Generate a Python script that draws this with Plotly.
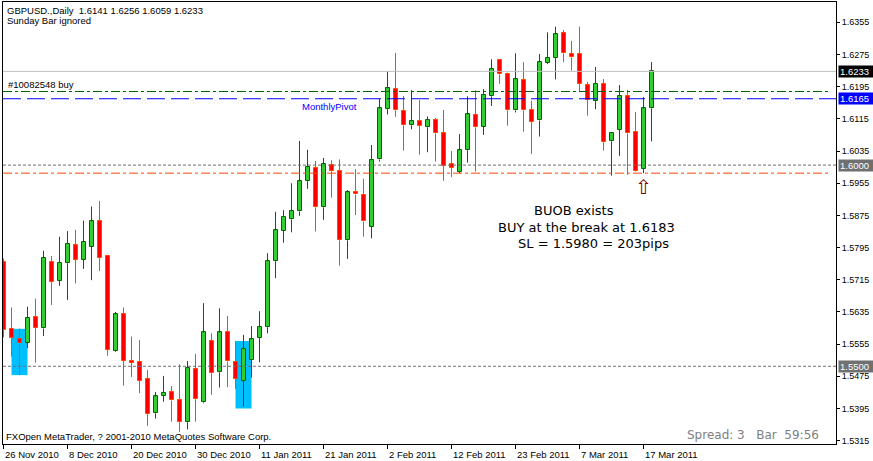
import plotly.graph_objects as go

# ---------------- data ----------------
opens = [1.5760, 1.5593, 1.5567, 1.5559, 1.5622, 1.5594, 1.5759, 1.5713, 1.5756, 1.5801,
         1.5765, 1.5797, 1.5860, 1.5773, 1.5539, 1.5629, 1.5513, 1.5510, 1.5468, 1.5383,
         1.5427, 1.5435, 1.5415, 1.5361, 1.5492, 1.5410, 1.5563, 1.5485, 1.5584, 1.5510,
         1.5463, 1.5516, 1.5570, 1.5597, 1.5761, 1.5836, 1.5865, 1.5885, 1.5960, 1.5992,
         1.5895, 1.6000, 1.5985, 1.5813, 1.5932, 1.5925, 1.5847, 1.6014, 1.6139, 1.6189,
         1.6135, 1.6099, 1.6109, 1.6094, 1.6112, 1.6079, 1.6002, 1.5984, 1.6037, 1.6124,
         1.6096, 1.6171, 1.6261, 1.6227, 1.6136, 1.6211, 1.6136, 1.6111, 1.6255, 1.6266,
         1.6328, 1.6276, 1.6276, 1.6198, 1.6159, 1.6201, 1.6059, 1.6088, 1.6171, 1.6082,
         1.5990, 1.6141]
highs = [1.5768, 1.5646, 1.5594, 1.5648, 1.5668, 1.5787, 1.5774, 1.5822, 1.5836, 1.5839,
         1.5862, 1.5897, 1.5911, 1.5775, 1.5635, 1.5646, 1.5574, 1.5565, 1.5491, 1.5436,
         1.5476, 1.5451, 1.5505, 1.5513, 1.5531, 1.5657, 1.5582, 1.5644, 1.5625, 1.5563,
         1.5578, 1.5600, 1.5637, 1.5781, 1.5884, 1.5888, 1.5955, 1.6060, 1.6038, 1.6010,
         1.6018, 1.6012, 1.6014, 1.5938, 1.5990, 1.5966, 1.6050, 1.6164, 1.6234, 1.6279,
         1.6172, 1.6186, 1.6162, 1.6121, 1.6117, 1.6137, 1.6035, 1.6077, 1.6171, 1.6186,
         1.6189, 1.6263, 1.6262, 1.6230, 1.6278, 1.6256, 1.6160, 1.6276, 1.6330, 1.6344,
         1.6336, 1.6309, 1.6344, 1.6207, 1.6244, 1.6214, 1.6079, 1.6199, 1.6187, 1.6132,
         1.6169, 1.6256]
lows = [1.5572, 1.5524, 1.5478, 1.5545, 1.5509, 1.5575, 1.5652, 1.5700, 1.5665, 1.5706,
        1.5742, 1.5714, 1.5737, 1.5526, 1.5536, 1.5452, 1.5473, 1.5433, 1.5352, 1.5370,
        1.5412, 1.5362, 1.5337, 1.5343, 1.5362, 1.5408, 1.5429, 1.5447, 1.5448, 1.5444,
        1.5400, 1.5472, 1.5510, 1.5582, 1.5719, 1.5807, 1.5833, 1.5874, 1.5941, 1.5835,
        1.5864, 1.5919, 1.5750, 1.5767, 1.5876, 1.5822, 1.5818, 1.6009, 1.6126, 1.6120,
        1.6036, 1.6089, 1.6026, 1.6032, 1.6009, 1.5961, 1.5970, 1.5980, 1.6006, 1.5984,
        1.6075, 1.6147, 1.6202, 1.6098, 1.6131, 1.6083, 1.6028, 1.6071, 1.6251, 1.6213,
        1.6256, 1.6235, 1.6184, 1.6123, 1.6139, 1.6036, 1.5974, 1.6023, 1.5976, 1.5984,
        1.5980, 1.6059]
closes = [1.5590, 1.5570, 1.5559, 1.5620, 1.5596, 1.5769, 1.5710, 1.5757, 1.5804, 1.5764,
          1.5809, 1.5860, 1.5770, 1.5541, 1.5629, 1.5514, 1.5509, 1.5464, 1.5381, 1.5425,
          1.5434, 1.5415, 1.5362, 1.5495, 1.5418, 1.5584, 1.5483, 1.5584, 1.5512, 1.5468,
          1.5542, 1.5567, 1.5597, 1.5761, 1.5838, 1.5872, 1.5885, 1.5960, 1.5995, 1.5895,
          1.6002, 1.5985, 1.5813, 1.5932, 1.5927, 1.5860, 1.6012, 1.6141, 1.6191, 1.6136,
          1.6099, 1.6109, 1.6097, 1.6112, 1.6079, 1.5998, 1.5994, 1.6037, 1.6126, 1.6094,
          1.6174, 1.6238, 1.6226, 1.6136, 1.6213, 1.6136, 1.6107, 1.6256, 1.6266, 1.6325,
          1.6278, 1.6268, 1.6202, 1.6162, 1.6202, 1.6057, 1.6079, 1.6171, 1.6079, 1.5986,
          1.6141, 1.6233]

date_tick_bars = [0, 8, 16, 24, 32, 40, 48, 56, 64, 72, 80]
date_tick_labels = ["26 Nov 2010", "8 Dec 2010", "20 Dec 2010", "30 Dec 2010", "11 Jan 2011",
                    "21 Jan 2011", "2 Feb 2011", "12 Feb 2011", "23 Feb 2011", "7 Mar 2011",
                    "17 Mar 2011"]
price_ticks = [1.5315, 1.5395, 1.5475, 1.5555, 1.5635, 1.5715, 1.5795, 1.5875, 1.5955,
               1.6035, 1.6115, 1.6195, 1.6275, 1.6355]

bid_price = 1.6233
order_price = 1.6183
pivot_price = 1.6165
sl_price = 1.5980
level_1600 = 1.6000
level_1550 = 1.5500

boxes = [  # (bar from, bar to, price low, price high)
    (1, 3, 1.5478, 1.5593),
    (29, 31, 1.5395, 1.5563),
]
signal_bar = 80

title_text = "GBPUSD.,Daily\u00a0\u00a01.6141 1.6256 1.6059 1.6233"

# ---------------- geometry ----------------
W, H = 873, 461
LM, RM, TM, BM = 3, 37, 2, 17
PW, PH = W - LM - RM, H - TM - BM


def px_x(px):
    return (px - LM) / PW


def px_y(py):
    return (H - BM - py) / PH


UP_FILL, UP_LINE = "#32CD32", "#006400"
DN_FILL, DN_LINE = "#FF0000", "#FF4500"

n = len(opens)
idx = list(range(n))

fig = go.Figure()

# wicks (split around the body)
for up in (True, False):
    wx, wy = [], []
    for i in idx:
        o, h, l, c = opens[i], highs[i], lows[i], closes[i]
        if (c >= o) != up:
            continue
        top, bot = max(o, c), min(o, c)
        if h > top:
            wx += [i, i, None]
            wy += [top, h, None]
        if l < bot:
            wx += [i, i, None]
            wy += [l, bot, None]
    fig.add_trace(go.Scatter(x=wx, y=wy, mode="lines",
                             line=dict(color=UP_LINE if up else DN_LINE, width=1),
                             hoverinfo="skip", showlegend=False))

# bodies
for up in (True, False):
    bx, bbase, bh = [], [], []
    for i in idx:
        o, c = opens[i], closes[i]
        if (c >= o) != up:
            continue
        bx.append(i)
        bbase.append(min(o, c))
        bh.append(max(abs(c - o), 0.00004))
    fig.add_trace(go.Bar(x=bx, y=bh, base=bbase, width=0.5,
                         marker=dict(color=UP_FILL if up else DN_FILL,
                                     line=dict(color=UP_LINE if up else DN_LINE, width=1)),
                         hoverinfo="skip", showlegend=False))

shapes = []
for b0, b1, p0, p1 in boxes:
    shapes.append(dict(type="rect", xref="x", yref="y", x0=b0, x1=b1, y0=p0, y1=p1,
                       fillcolor="#00BFFF", line=dict(width=0), layer="below"))


def hline(price, color, dash, x1=1.0):
    return dict(type="line", xref="paper", yref="y", x0=0, x1=x1, y0=price, y1=price,
                line=dict(color=color, width=1, dash=dash), layer="above")


shapes += [
    hline(bid_price, "#C0C0C0", "solid"),
    hline(order_price, "#006400", "9px,3px,3px,3px", px_x(829)),
    hline(pivot_price, "#0000FF", "18px,6px"),
    hline(level_1600, "#707070", "3px,2px"),
    hline(sl_price, "#FF4500", "9px,3px,3px,3px", px_x(829)),
    hline(level_1550, "#707070", "3px,2px"),
]

SMALL = dict(family="Liberation Sans", size=9.5, color="black")
BIG = dict(family="DejaVu Sans", size=13, color="black")

ann = []
ann.append(dict(text=title_text, xref="paper", yref="paper", x=px_x(5), y=px_y(10.5),
                xanchor="left", yanchor="middle", showarrow=False, font=SMALL))
ann.append(dict(text="Sunday Bar ignored", xref="paper", yref="paper", x=px_x(5), y=px_y(21),
                xanchor="left", yanchor="middle", showarrow=False, font=SMALL))
ann.append(dict(text="#10082548 buy", xref="paper", yref="y", x=px_x(6), y=order_price,
                xanchor="left", yanchor="bottom", showarrow=False, font=SMALL))
ann.append(dict(text="MonthlyPivot", xref="paper", yref="y", x=px_x(300), y=pivot_price,
                xanchor="left", yanchor="top", showarrow=False,
                font=dict(family="Liberation Sans", size=9.5, color="#0000FF")))
ann.append(dict(text="BUOB exists", xref="paper", yref="paper", x=px_x(532), y=px_y(210),
                xanchor="left", yanchor="middle", showarrow=False, font=BIG))
ann.append(dict(text="BUY at the break at 1.6183", xref="paper", yref="paper", x=px_x(496),
                y=px_y(227), xanchor="left", yanchor="middle", showarrow=False, font=BIG))
ann.append(dict(text="SL = 1.5980 = 203pips", xref="paper", yref="paper", x=px_x(516),
                y=px_y(243.5), xanchor="left", yanchor="middle", showarrow=False, font=BIG))
ann.append(dict(text="FXOpen MetaTrader, ? 2001-2010 MetaQuotes Software Corp.", xref="paper",
                yref="paper", x=px_x(4), y=px_y(436), xanchor="left", yanchor="middle",
                showarrow=False, font=SMALL))
ann.append(dict(text="Spread: 3\u00a0\u00a0\u00a0Bar\u00a0\u00a059:56", xref="paper",
                yref="paper", x=px_x(821), y=px_y(435), xanchor="right", yanchor="middle",
                showarrow=False, font=dict(family="DejaVu Sans", size=12, color="#808080")))
# signal arrow
ann.append(dict(text="\u21e7", xref="x", yref="y", x=signal_bar, y=sl_price, yshift=0,
                xanchor="center", yanchor="top", showarrow=False,
                font=dict(family="DejaVu Sans", size=20, color="#800000")))

# price boxes on the right axis
for price, bg in ((bid_price, "#000000"), (pivot_price, "#0000FF"),
                  (level_1600, "#707070"), (level_1550, "#707070")):
    ann.append(dict(text=f"{price:.4f}", xref="paper", yref="y", x=1, y=price, xshift=2,
                    xanchor="left", yanchor="middle", showarrow=False, bgcolor=bg,
                    borderpad=1, width=33, height=9, align="left",
                    font=dict(family="Liberation Sans", size=9.5, color="white")))

# date labels (left-aligned at the ticks)
for b, lab in zip(date_tick_bars, date_tick_labels):
    ann.append(dict(text=lab, xref="x", yref="paper", x=b, y=0, xshift=-1, yshift=-3,
                    xanchor="left", yanchor="top", showarrow=False, font=SMALL))

fig.update_layout(
    width=W, height=H, autosize=False,
    margin=dict(l=LM, r=RM, t=TM, b=BM, pad=0),
    paper_bgcolor="white", plot_bgcolor="white",
    barmode="overlay", bargap=0, showlegend=False,
    shapes=shapes, annotations=ann,
    xaxis=dict(range=[-0.0625, -0.0625 + PW / 8], showgrid=False, zeroline=False,
               showline=True, linecolor="black", linewidth=1, mirror=True,
               ticks="outside", ticklen=4, tickcolor="black", tickvals=date_tick_bars,
               showticklabels=False, fixedrange=True),
    yaxis=dict(range=[1.6355 - (H - BM - 22.3) / 4023, 1.6355 + (22.3 - TM) / 4023],
               side="right", showgrid=False, zeroline=False, showline=True,
               linecolor="black", linewidth=1, mirror=True, ticks="outside", ticklen=3,
               tickcolor="black", tickvals=price_ticks,
               ticktext=[f"{p:.4f}" for p in price_ticks],
               tickfont=dict(family="Liberation Sans", size=9, color="black"),
               fixedrange=True),
)

fig.write_html("out.html", post_script="document.body.style.margin='0';",
               config={"displayModeBar": False})
